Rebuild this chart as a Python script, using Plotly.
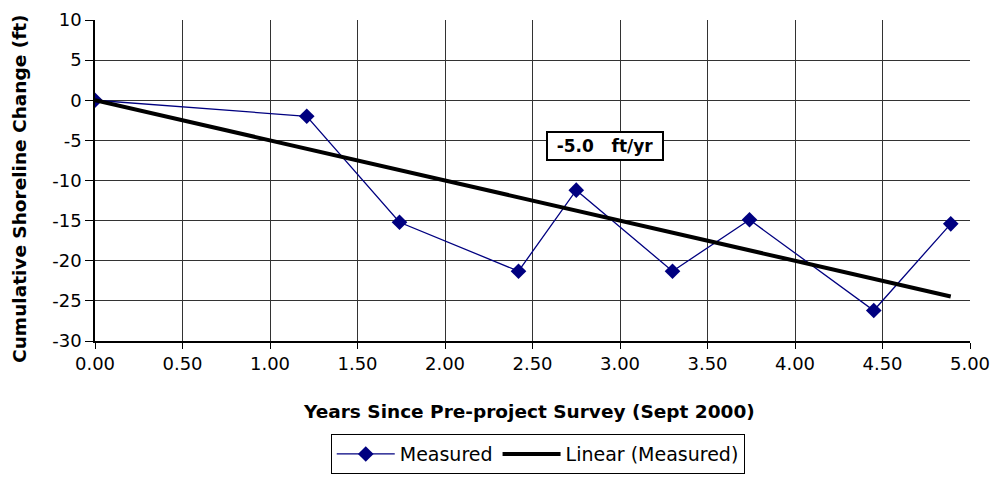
import plotly.graph_objects as go

# measured shoreline change
years = [0.0, 1.21, 1.74, 2.42, 2.75, 3.30, 3.74, 4.45, 4.89]
change_ft = [0.0, -2.0, -15.2, -21.3, -11.2, -21.3, -14.9, -26.2, -15.4]

# linear trend endpoints (as drawn)
trend_x = [0.0, 4.89]
trend_y = [0.0, -24.45]

rate_label = "-5.0   ft/yr"

x_ticks = [0, 0.5, 1, 1.5, 2, 2.5, 3, 3.5, 4, 4.5, 5]
y_ticks = [10, 5, 0, -5, -10, -15, -20, -25, -30]

FONT = "DejaVu Sans, Liberation Sans, Arial, sans-serif"

fig = go.Figure()
fig.add_trace(go.Scatter(
    x=years, y=change_ft, name="Measured", mode="lines+markers",
    line=dict(color="#000080", width=1.3),
    marker=dict(symbol="diamond", size=12, color="#000080"),
))
fig.add_trace(go.Scatter(
    x=trend_x, y=trend_y, name="Linear (Measured)", mode="lines",
    line=dict(color="black", width=4),
))

# slope label
fig.add_annotation(
    x=2.914, y=-5.7, text="<b>" + rate_label + "</b>", showarrow=False,
    font=dict(family=FONT, size=17, color="black"),
    width=112, height=24,
    bordercolor="black", borderwidth=2, borderpad=1, bgcolor="white",
)

# axis titles
fig.add_annotation(
    x=0.496, y=-0.221, xref="paper", yref="paper", showarrow=False,
    xanchor="center", yanchor="middle",
    text="<b>Years Since Pre-project Survey (Sept 2000)</b>",
    font=dict(family=FONT, size=18.5, color="black"),
)
fig.add_annotation(
    x=-0.087, y=0.4735, xref="paper", yref="paper", showarrow=False,
    xanchor="center", yanchor="middle", textangle=-90,
    text="<b>Cumulative Shoreline Change (ft)</b>",
    font=dict(family=FONT, size=18.5, color="black"),
)

fig.update_xaxes(
    range=[0, 5], tickvals=x_ticks, ticktext=["%.2f" % v for v in x_ticks],
    showgrid=True, gridcolor="#333", gridwidth=1,
    showline=True, linecolor="black", linewidth=1.5,
    ticks="outside", ticklen=6, tickcolor="black",
    tickfont=dict(family=FONT, size=18, color="black"),
    zeroline=False, automargin=False,
)
fig.update_yaxes(
    range=[-30, 10], tickvals=y_ticks, ticktext=[str(v) for v in y_ticks],
    showgrid=True, gridcolor="#333", gridwidth=1,
    showline=True, linecolor="black", linewidth=1.5,
    ticks="outside", ticklen=8, tickcolor="black",
    tickfont=dict(family=FONT, size=18, color="black"),
    zeroline=False, automargin=False,
)

# page body adds an 8px offset; margins are shifted to compensate
fig.update_layout(
    width=990, height=479,
    margin=dict(l=87, r=28, t=12, b=146),
    plot_bgcolor="white", paper_bgcolor="white",
    font=dict(family=FONT, color="black"),
    legend=dict(
        orientation="h", x=0.506, xanchor="center", y=-0.29, yanchor="top",
        bordercolor="black", borderwidth=1, itemwidth=58,
        font=dict(family=FONT, size=19, color="black"),
    ),
)

fig.write_html("out.html")
